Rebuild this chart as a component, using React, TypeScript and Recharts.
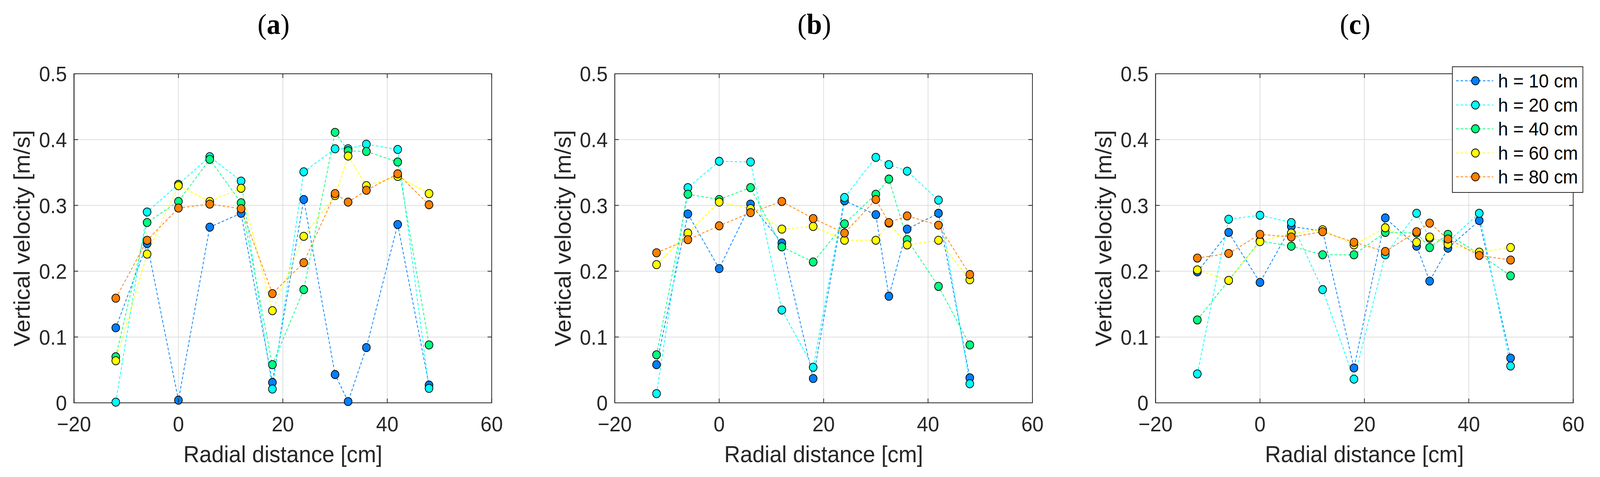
import React from 'react';
import { LineChart, Line, XAxis, YAxis, CartesianGrid, ReferenceArea, Legend } from 'recharts';

// radial positions of the measuring points [cm]
const radialDistance = [-12, -6, 0, 6, 12, 18, 24, 30, 32.5, 36, 42, 48];
const heightLabels = ['h = 10 cm', 'h = 20 cm', 'h = 40 cm', 'h = 60 cm', 'h = 80 cm'];
const seriesColors = ['#0080ff', '#00ffff', '#00ff80', '#ffff00', '#ff8000'];
const panelTitles = ['a', 'b', 'c'];
const xTicks = [-20, 0, 20, 40, 60];
const yTicks = [0, 0.1, 0.2, 0.3, 0.4, 0.5];

// (a) vertical velocity [m/s]
const a10 = [0.114, 0.242, 0.004, 0.267, 0.288, 0.031, 0.309, 0.043, 0.002, 0.084, 0.271, 0.027];
const a20 = [0.001, 0.29, 0.332, 0.374, 0.337, 0.021, 0.351, 0.386, 0.386, 0.393, 0.385, 0.022];
const a40 = [0.07, 0.274, 0.306, 0.37, 0.304, 0.058, 0.172, 0.411, 0.383, 0.382, 0.366, 0.088];
const a60 = [0.064, 0.226, 0.33, 0.306, 0.326, 0.14, 0.253, 0.315, 0.375, 0.33, 0.344, 0.318];
const a80 = [0.159, 0.247, 0.296, 0.302, 0.295, 0.166, 0.213, 0.318, 0.305, 0.323, 0.348, 0.301];

// (b)
const b10 = [0.058, 0.287, 0.204, 0.302, 0.243, 0.037, 0.307, 0.286, 0.162, 0.264, 0.288, 0.038];
const b20 = [0.014, 0.327, 0.367, 0.366, 0.141, 0.054, 0.312, 0.373, 0.362, 0.352, 0.308, 0.029];
const b40 = [0.073, 0.317, 0.309, 0.327, 0.237, 0.214, 0.272, 0.317, 0.34, 0.248, 0.177, 0.088];
const b60 = [0.21, 0.258, 0.305, 0.295, 0.264, 0.268, 0.247, 0.247, 0.273, 0.24, 0.247, 0.187];
const b80 = [0.228, 0.248, 0.269, 0.289, 0.306, 0.28, 0.258, 0.309, 0.274, 0.284, 0.27, 0.195];

// (c)
const c10 = [0.199, 0.259, 0.183, 0.268, 0.261, 0.053, 0.281, 0.238, 0.185, 0.235, 0.277, 0.068];
const c20 = [0.044, 0.279, 0.285, 0.274, 0.172, 0.036, 0.225, 0.288, 0.25, 0.245, 0.288, 0.056];
const c40 = [0.126, 0.186, 0.246, 0.238, 0.225, 0.225, 0.259, 0.258, 0.236, 0.256, 0.226, 0.193];
const c60 = [0.202, 0.186, 0.245, 0.258, 0.263, 0.24, 0.266, 0.244, 0.252, 0.241, 0.229, 0.236];
const c80 = [0.22, 0.227, 0.256, 0.252, 0.26, 0.244, 0.23, 0.26, 0.273, 0.249, 0.224, 0.217];

const panels = [
  [a10, a20, a40, a60, a80],
  [b10, b20, b40, b60, b80],
  [c10, c20, c40, c60, c80],
];

const keys = ['h10', 'h20', 'h40', 'h60', 'h80'];

const buildRows = (series: number[][]) =>
  radialDistance.map((x, i) => {
    const row: Record<string, number> = { x };
    series.forEach((s, k) => {
      row[keys[k]] = s[i];
    });
    return row;
  });

// layout (px), laid out for the 4302 x 1222 figure
const W = 4302;
const H = 1222;
const STEP = 1454;
const TOP = 189;
const LEFT = 199;
const PW = 1123;
const PH = 843;
const TICK = 11;
const AXIS = '#262626';
const SANS = '"Liberation Sans", Arial, Helvetica, sans-serif';

const fmtX = (v: number) => (v < 0 ? '\u2212' + Math.abs(v) : String(v));
const fmtY = (v: number) => (v === 0 ? '0' : v.toFixed(1));

const XTick = (props: any) => {
  const { x, payload } = props;
  return (
    <g>
      <line x1={x} x2={x} y1={TOP + PH} y2={TOP + PH - TICK} stroke={AXIS} strokeWidth={2} />
      <line x1={x} x2={x} y1={TOP} y2={TOP + TICK} stroke={AXIS} strokeWidth={2} />
      <text x={x} y={TOP + PH + 73} textAnchor="middle" fontSize={54} fill={AXIS} fontFamily={SANS}>
        {fmtX(payload.value)}
      </text>
    </g>
  );
};

const YTick = (props: any) => {
  const { y, payload } = props;
  return (
    <g>
      <line x1={LEFT} x2={LEFT + TICK} y1={y} y2={y} stroke={AXIS} strokeWidth={2} />
      <line x1={LEFT + PW} x2={LEFT + PW - TICK} y1={y} y2={y} stroke={AXIS} strokeWidth={2} />
      <text x={LEFT - 19} y={y} dy="0.36em" textAnchor="end" fontSize={54} fill={AXIS} fontFamily={SANS}>
        {fmtY(payload.value)}
      </text>
    </g>
  );
};

const renderLegend = (props: any) => {
  const { payload } = props;
  return (
    <div
      style={{
        position: 'relative',
        width: 353,
        height: 324,
        boxSizing: 'border-box',
        border: `2px solid ${AXIS}`,
        background: '#fff',
      }}
    >
      {(payload || []).map((entry: any, i: number) => (
        <div
          key={i}
          style={{
            position: 'absolute',
            left: 0,
            top: 35 + i * 61.6 - 30,
            height: 60,
            display: 'flex',
            alignItems: 'center',
            whiteSpace: 'nowrap',
          }}
        >
          <svg width={120} height={60}>
            <line x1={9} x2={109} y1={30} y2={30} stroke={entry.color} strokeWidth={2} strokeDasharray="7 5" />
            <circle cx={61} cy={30} r={10.5} fill={entry.color} stroke="#000" strokeWidth={1.8} />
          </svg>
          <span style={{ fontFamily: SANS, fontSize: 48.6, lineHeight: '60px', color: '#000', marginLeft: 2 }}>
            {entry.value}
          </span>
        </div>
      ))}
    </div>
  );
};

const Panel = ({ index }: { index: number }) => {
  const width = index === 2 ? W - STEP * 2 : STEP;
  const data = buildRows(panels[index]);
  return (
    <div style={{ position: 'absolute', left: STEP * index, top: 0, width, height: H }}>
      <div
        style={{
          position: 'absolute',
          left: LEFT + PW / 2 - 25 - 100,
          top: 25,
          width: 200,
          textAlign: 'center',
          fontFamily: '"Liberation Serif", "Times New Roman", serif',
          fontSize: 74,
          lineHeight: '74px',
          color: '#000',
        }}
      >
        (<b>{panelTitles[index]}</b>)
      </div>
      <LineChart width={width} height={H} data={data} margin={{ top: TOP, right: width - LEFT - PW, bottom: 0, left: 0 }}>
        <CartesianGrid stroke="#dedede" strokeWidth={2} />
        <XAxis
          dataKey="x"
          type="number"
          domain={[-20, 60]}
          ticks={xTicks}
          height={H - TOP - PH}
          axisLine={{ stroke: AXIS, strokeWidth: 2 }}
          tickLine={false}
          tick={XTick}
          label={{
            content: () => (
              <text x={LEFT + PW / 2} y={TOP + PH + 152} textAnchor="middle" fontSize={59.4} fill={AXIS} fontFamily={SANS}>
                Radial distance [cm]
              </text>
            ),
          }}
        />
        <YAxis
          type="number"
          domain={[0, 0.5]}
          ticks={yTicks}
          width={LEFT}
          axisLine={{ stroke: AXIS, strokeWidth: 2 }}
          tickLine={false}
          tick={YTick}
          label={{
            content: () => (
              <text
                x={80}
                y={TOP + PH / 2}
                transform={`rotate(-90, 80, ${TOP + PH / 2})`}
                textAnchor="middle"
                fontSize={59.4}
                fill={AXIS}
                fontFamily={SANS}
              >
                Vertical velocity [m/s]
              </text>
            ),
          }}
        />
        <ReferenceArea x1={-20} x2={60} y1={0} y2={0.5} fill="none" stroke={AXIS} strokeWidth={2} />
        {keys.map((k, i) => (
          <Line
            key={k}
            dataKey={k}
            name={heightLabels[i]}
            type="linear"
            stroke={seriesColors[i]}
            strokeWidth={2}
            strokeDasharray="7 5"
            dot={{ r: 10.5, fill: seriesColors[i], stroke: '#000', strokeWidth: 1.8, strokeDasharray: 'none' }}
            activeDot={false}
            isAnimationActive={false}
          />
        ))}
        {index === 2 && (
          <Legend
            layout="vertical"
            verticalAlign="middle"
            align="center"
            content={renderLegend}
            wrapperStyle={{ left: 3904 - STEP * 2, top: 170, width: 353, height: 324 }}
          />
        )}
      </LineChart>
    </div>
  );
};

export default function App() {
  // the window may be narrower than the figure: squeeze it horizontally to fit
  const viewW = typeof window !== 'undefined' ? window.innerWidth : W;
  const sx = Math.min(1, viewW / W);
  return (
    <div style={{ width: Math.min(W, viewW), height: H, overflow: 'hidden', background: '#fff' }}>
      <style>{'body{margin:0}'}</style>
      <div
        style={{
          position: 'relative',
          width: W,
          height: H,
          background: '#fff',
          transform: `scaleX(${sx})`,
          transformOrigin: '0 0',
        }}
      >
        {panelTitles.map((t, i) => (
          <Panel key={t} index={i} />
        ))}
      </div>
    </div>
  );
}
